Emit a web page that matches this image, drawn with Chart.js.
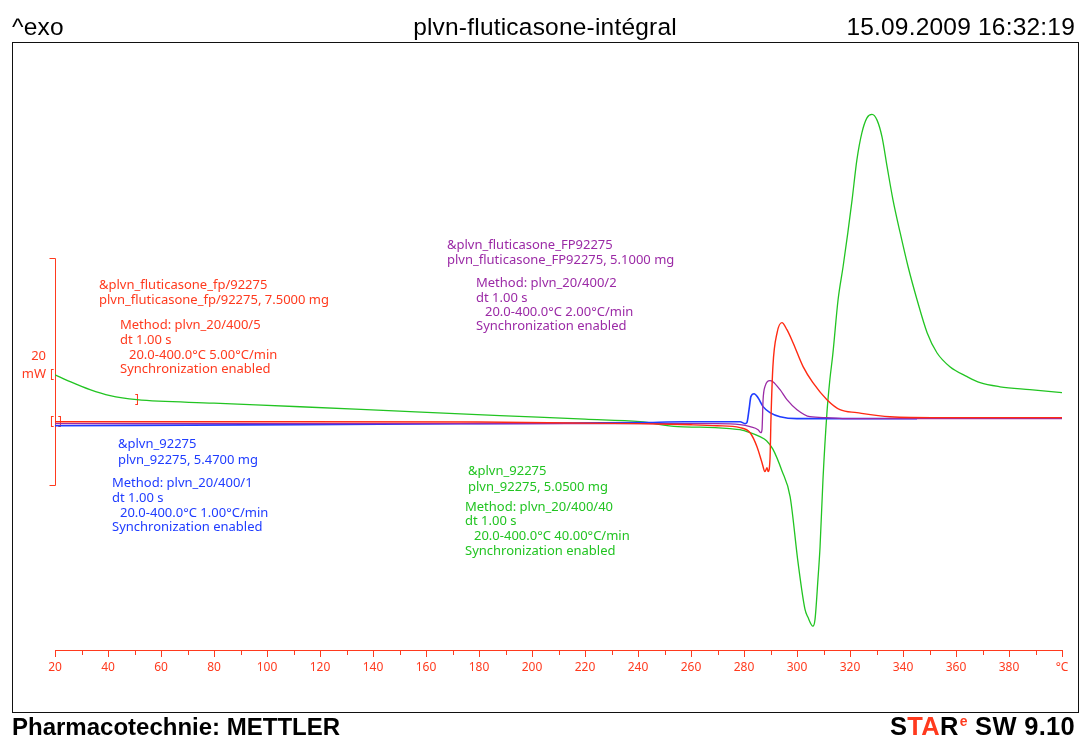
<!DOCTYPE html>
<html>
<head>
<meta charset="utf-8">
<title>plvn-fluticasone-intégral</title>
<script src="https://cdn.jsdelivr.net/npm/chart.js@4.4.1/dist/chart.umd.min.js"></script>
<style>
  html, body { margin: 0; padding: 0; background: #fff; }
  #page { position: relative; width: 1080px; height: 735px; overflow: hidden; background: #fff; }
  #frame { position: absolute; left: 12px; top: 42px; width: 1067px; height: 671px; box-sizing: border-box; border: 1px solid #111; }
  #chart { position: absolute; left: 0; top: 0; }
  .hdr { position: absolute; top: 13px; font-family: "Liberation Sans", Arial, sans-serif; font-size: 24.5px; letter-spacing: 0.2px; line-height: 28px; color: #000; white-space: pre; }
  .ftr { position: absolute; top: 713px; font-family: "Liberation Sans", Arial, sans-serif; font-weight: bold; font-size: 24px; line-height: 27px; color: #000; white-space: pre; }
  .note { position: absolute; font-family: "Noto Sans", sans-serif; font-size: 13px; line-height: 15px; white-space: pre; }
  .red { color: #ff3a1e; }
  sup.e { font-size: 14px; vertical-align: 9px; line-height: 0; margin-left: 1px; }
</style>
</head>
<body>
<div id="page">
  <div id="frame"></div>
  <canvas id="chart" width="1080" height="735"></canvas>
  <div class="hdr" style="left:12px;">^exo</div>
  <div class="hdr" style="left:0;width:1090px;text-align:center;">plvn-fluticasone-intégral</div>
  <div class="hdr" style="right:5px;">15.09.2009 16:32:19</div>
  <div class="ftr" style="left:12px;">Pharmacotechnie: METTLER</div>
  <div class="ftr" style="right:5px;font-size:25.5px;letter-spacing:0.3px;">S<span class="red">TA</span>R<sup class="e red">e</sup> SW 9.10</div>
</div>
<script>
// DSC heat flow curves, temperature in °C, heat flow in mW (exo up)

// 1.00 °C/min run (blue)
const blueT  = [20, 112.5, 180, 240.8, 257.7, 278.5, 280.4, 281.1, 281.9, 282.6, 283.8, 285.3, 287.2, 289.8, 293.6, 300, 318.9, 345.3];
const blueMW = [-0.53, -0.44, -0.35, -0.26, -0.18, -0.18, -0.35, -0.26, 0.88, 2.03, 2.29, 1.94, 1.15, 0.62, 0.26, 0.09, 0.09, 0.09];

// 2.00 °C/min run (purple)
const purpleT  = [20, 240.8, 269.8, 278.5, 282.3, 285.3, 286.4, 286.8, 287.2, 287.9, 289.8, 290.9, 293.6, 296.2, 300.0, 304.9, 311.3, 318.9, 400];
const purpleMW = [-0.35, -0.35, -0.35, -0.44, -0.62, -0.88, -1.15, -0.88, 1.76, 2.91, 3.44, 3.35, 2.64, 1.76, 0.88, 0.26, 0.18, 0.09, 0.09];

// 5.00 °C/min run (red)
const redT  = [20, 60, 112.5, 180, 240.8, 260, 269.8, 278.5, 282.3, 284.9, 286.8, 287.9, 288.7, 289.1, 289.8, 290.2, 290.9, 292.5, 294.3, 296.2, 298.5, 302.3, 306.0, 311.3, 316.2, 322.6, 335.1, 353.9, 400];
const redMW = [-0.18, -0.18, -0.18, -0.2, -0.35, -0.45, -0.53, -0.70, -1.15, -2.38, -3.79, -4.58, -4.23, -4.58, -3.52, 0.26, 4.67, 7.67, 8.55, 7.93, 6.78, 4.67, 3.26, 1.76, 0.88, 0.62, 0.26, 0.18, 0.18];

// 40.00 °C/min run (green)
const greenT  = [20, 25.7, 33.2, 40.8, 50.9, 80, 112.5, 150, 187.9, 220, 240.8, 255, 263.4, 274.7, 278.5, 282.3, 286.0, 288.5, 290.9, 294.3, 297.4, 300.4, 303.0, 304.1, 306.0, 306.8, 307.9, 308.7, 309.8, 311.3, 312.4, 313.5, 315.5, 317.4, 319.2, 320.8, 322.6, 324.5, 326.4, 328.3, 330.2, 332.1, 334.0, 336.2, 338.9, 341.9, 345.3, 349.1, 352.8, 357.7, 364.2, 369.1, 376.6, 387.9, 400];
const greenMW = [3.96, 3.35, 2.64, 2.11, 1.76, 1.46, 1.14, 0.75, 0.36, 0.04, -0.18, -0.62, -0.66, -0.79, -0.88, -1.15, -1.5, -1.85, -2.6, -4.5, -6.78, -12.6, -16.7, -17.4, -18.2, -17.6, -14.1, -11.2, -5.29, 0.62, 3.52, 5.73, 10.57, 13.5, 16.5, 19.4, 22.9, 25.3, 26.6, 26.9, 26.4, 24.9, 22.3, 19.4, 16.5, 13.5, 10.57, 7.67, 5.9, 4.67, 3.79, 3.26, 2.9, 2.64, 2.38];

// Temperature axis: labelled ticks every 20 °C, small ticks in between
const majorTicks = [20, 40, 60, 80, 100, 120, 140, 160, 180, 200, 220, 240, 260, 280, 300, 320, 340, 360, 380, 400];
const minorTicks = [30, 50, 70, 90, 110, 130, 150, 170, 190, 210, 230, 250, 270, 290, 310, 330, 350, 370, 390];
const lastTickLabel = '°C';

// Heat flow range shown and the 20 mW scale bar
const yRange = [-20.3, 31.7];
const scaleBar = [-5.73, 14.27];

const RED = '#ff3a1e';
const colors = { red: '#ff2a12', purple: '#9b2aa6', blue: '#1f3cff', green: '#22c422' };

// Curve start / sync markers
const markers = [
  { t: 20, v: greenMW[0], glyph: '[', dx: -3 },
  { t: 20, v: -0.2, glyph: '[', dx: -3 },
  { t: 20, v: -0.2, glyph: ']', dx: 5 },
  { t: 50.9, v: 1.76, glyph: ']', dx: 0 }
];

// Sample annotations
const notes = [
  { c: '#ff3a1e', x: 99,  y: 284, s: '&plvn_fluticasone_fp/92275' },
  { c: '#ff3a1e', x: 99,  y: 299, s: 'plvn_fluticasone_fp/92275, 7.5000 mg' },
  { c: '#ff3a1e', x: 120, y: 324, s: 'Method: plvn_20/400/5' },
  { c: '#ff3a1e', x: 120, y: 339, s: 'dt 1.00 s' },
  { c: '#ff3a1e', x: 129, y: 354, s: '20.0-400.0°C 5.00°C/min' },
  { c: '#ff3a1e', x: 120, y: 368, s: 'Synchronization enabled' },

  { c: '#9b2aa6', x: 447, y: 244, s: '&plvn_fluticasone_FP92275' },
  { c: '#9b2aa6', x: 447, y: 259, s: 'plvn_fluticasone_FP92275, 5.1000 mg' },
  { c: '#9b2aa6', x: 476, y: 282, s: 'Method: plvn_20/400/2' },
  { c: '#9b2aa6', x: 476, y: 297, s: 'dt 1.00 s' },
  { c: '#9b2aa6', x: 485, y: 311, s: '20.0-400.0°C 2.00°C/min' },
  { c: '#9b2aa6', x: 476, y: 325, s: 'Synchronization enabled' },

  { c: '#1f3cff', x: 118, y: 443, s: '&plvn_92275' },
  { c: '#1f3cff', x: 118, y: 459, s: 'plvn_92275, 5.4700 mg' },
  { c: '#1f3cff', x: 112, y: 482, s: 'Method: plvn_20/400/1' },
  { c: '#1f3cff', x: 112, y: 497, s: 'dt 1.00 s' },
  { c: '#1f3cff', x: 120, y: 512, s: '20.0-400.0°C 1.00°C/min' },
  { c: '#1f3cff', x: 112, y: 526, s: 'Synchronization enabled' },

  { c: '#22c422', x: 468, y: 470, s: '&plvn_92275' },
  { c: '#22c422', x: 468, y: 486, s: 'plvn_92275, 5.0500 mg' },
  { c: '#22c422', x: 465, y: 506, s: 'Method: plvn_20/400/40' },
  { c: '#22c422', x: 465, y: 520, s: 'dt 1.00 s' },
  { c: '#22c422', x: 474, y: 535, s: '20.0-400.0°C 40.00°C/min' },
  { c: '#22c422', x: 465, y: 550, s: 'Synchronization enabled' },

  { c: '#ff3a1e', x: 46, y: 355, s: '20', right: true },
  { c: '#ff3a1e', x: 46, y: 373, s: 'mW', right: true }
];

const page = document.getElementById('page');
for (const n of notes) {
  const d = document.createElement('div');
  d.className = 'note';
  d.textContent = n.s;
  d.style.color = n.c;
  d.style.top = (n.y - 7.5) + 'px';
  if (n.right) d.style.right = (1080 - n.x) + 'px';
  else d.style.left = n.x + 'px';
  page.appendChild(d);
}

const toPoints = (ts, vs) => ts.map((t, i) => ({ x: t, y: vs[i] }));

function curve(label, ts, vs, color, width) {
  return {
    label,
    data: toPoints(ts, vs),
    borderColor: color,
    borderWidth: width,
    pointRadius: 0,
    fill: false,
    cubicInterpolationMode: 'monotone'
  };
}

const guides = {
  id: 'guides',
  beforeDatasetsDraw(chart) {
    const { ctx, chartArea: a, scales: { x, y } } = chart;
    ctx.save();
    ctx.strokeStyle = RED;
    ctx.lineWidth = 1;
    // 20 mW scale bar
    const top = Math.round(y.getPixelForValue(scaleBar[1])) + 0.5;
    const bot = Math.round(y.getPixelForValue(scaleBar[0])) + 0.5;
    const bx = Math.round(a.left) + 0.5;
    ctx.beginPath();
    ctx.moveTo(bx - 6, top); ctx.lineTo(bx, top);
    ctx.lineTo(bx, bot); ctx.lineTo(bx - 6, bot);
    // small ticks between the labelled ones
    for (const t of minorTicks) {
      const px = Math.round(x.getPixelForValue(t)) + 0.5;
      ctx.moveTo(px, a.bottom); ctx.lineTo(px, a.bottom + 5);
    }
    ctx.stroke();
    // start and sync markers
    ctx.fillStyle = RED;
    ctx.font = '12px "Noto Sans"';
    ctx.textAlign = 'center';
    ctx.textBaseline = 'middle';
    for (const m of markers) {
      ctx.fillText(m.glyph, x.getPixelForValue(m.t) + m.dx, y.getPixelForValue(m.v));
    }
    ctx.restore();
  }
};

new Chart(document.getElementById('chart'), {
  type: 'line',
  data: {
    datasets: [
      curve('plvn_fluticasone_fp/92275, 7.5000 mg', redT, redMW, colors.red, 1.4),
      curve('plvn_fluticasone_FP92275, 5.1000 mg', purpleT, purpleMW, colors.purple, 1.3),
      curve('plvn_92275, 5.4700 mg', blueT, blueMW, colors.blue, 1.6),
      curve('plvn_92275, 5.0500 mg', greenT, greenMW, colors.green, 1.3)
    ]
  },
  options: {
    responsive: false,
    devicePixelRatio: 1,
    animation: false,
    events: [],
    layout: { padding: { left: 55, right: 18, top: 60, bottom: 0 } },
    plugins: { legend: { display: false }, tooltip: { enabled: false } },
    scales: {
      x: {
        type: 'linear',
        position: 'bottom',
        min: majorTicks[0],
        max: majorTicks[majorTicks.length - 1],
        afterBuildTicks(scale) { scale.ticks = majorTicks.map(v => ({ value: v })); },
        afterFit(scale) { scale.height = 85; },
        ticks: {
          color: RED,
          font: { family: 'Noto Sans', size: 12 },
          padding: 3,
          maxRotation: 0,
          autoSkip: false,
          callback: (v) => (v === majorTicks[majorTicks.length - 1] ? lastTickLabel : String(v))
        },
        grid: { drawOnChartArea: false, drawTicks: true, tickLength: 7, tickColor: RED, tickWidth: 1 },
        border: { display: true, color: RED, width: 1 }
      },
      y: {
        display: false,
        min: yRange[0],
        max: yRange[1]
      }
    }
  },
  plugins: [guides]
});
</script>
</body>
</html>
